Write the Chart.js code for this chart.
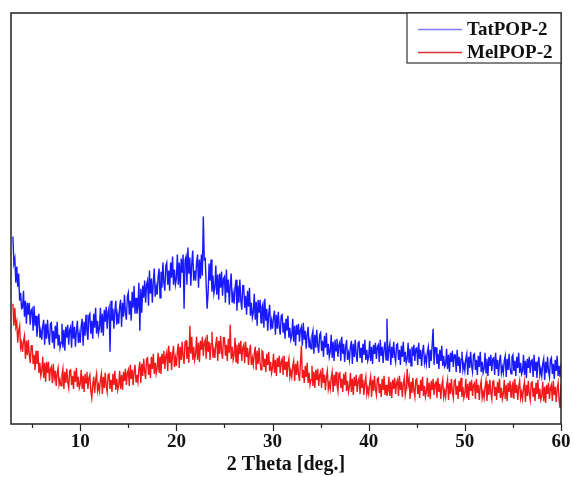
<!DOCTYPE html>
<html>
<head>
<meta charset="utf-8">
<script src="https://cdn.jsdelivr.net/npm/chart.js@4.4.0/dist/chart.umd.min.js"></script>
<style>
  html, body { margin: 0; padding: 0; background: #fff; }
  canvas { display: block; }
</style>
</head>
<body>
<canvas id="xrd" width="574" height="477"></canvas>
<script>
// PXRD scan, 2θ from 3 to 60 deg in 0.1 deg steps (intensity in a.u.)
var scanStart = 3;
var scanStep = 0.1;

// one row per degree
var tatPop2 = [
  187,160,165,141,157,137,150,123,131,115,
  116,133,107,123,100,121,109,121,99,113,
  115,93,118,98,108,87,102,110,86,93,
  84,98,104,79,100,85,104,88,79,100,
  101,81,93,75,98,85,102,78,89,76,
  81,100,76,94,73,97,86,99,79,94,
  97,76,103,85,97,77,93,103,81,90,
  81,98,105,78,102,88,109,92,84,108,
  110,90,103,85,110,96,116,90,103,90,
  96,116,91,110,88,114,102,117,95,112,
  116,72,123,103,115,95,113,123,99,109,
  100,117,124,97,121,107,129,111,104,127,
  131,109,123,103,132,116,138,110,126,110,
  117,141,93,135,111,138,126,143,121,139,
  143,118,153,130,145,121,142,155,127,137,
  129,147,155,126,152,136,161,141,133,158,
  161,139,153,133,161,146,167,139,154,139,
  145,169,139,161,136,165,151,169,115,163,
  167,139,176,150,166,138,160,173,143,153,
  143,161,169,136,164,145,169,148,207,164,
  165,139,115,131,160,143,164,132,148,130,
  136,158,129,149,124,150,136,152,128,145,
  147,121,154,131,144,119,138,150,121,130,
  120,136,144,113,138,121,144,123,114,138,
  138,116,128,109,133,117,136,108,121,106,
  111,130,104,122,98,124,111,124,101,117,
  120,96,125,103,115,93,110,119,94,103,
  95,107,113,89,109,95,112,97,89,108,
  109,91,101,85,105,93,108,86,96,84,
  88,105,82,98,78,99,89,100,82,94,
  97,78,101,84,93,75,89,97,76,83,
  75,88,93,70,89,76,94,78,71,89,
  91,73,83,67,88,76,91,69,80,67,
  72,89,66,82,63,84,73,85,67,79,
  82,63,87,70,80,62,76,84,64,71,
  64,77,83,60,80,67,84,69,62,81,
  82,66,76,61,80,69,84,64,74,63,
  67,83,63,77,60,79,70,81,65,77,
  79,62,84,68,77,61,75,82,64,105,
  63,75,80,59,77,66,82,68,62,79,
  80,64,74,59,78,67,82,62,72,61,
  65,81,61,75,58,77,68,79,63,75,
  76,59,81,65,74,58,72,79,61,67,
  60,72,77,56,74,63,79,95,59,76,
  76,60,70,55,74,63,78,58,68,57,
  59,75,55,69,52,71,62,73,57,69,
  69,52,74,58,67,51,65,72,54,60,
  53,65,70,49,67,56,72,58,52,69,
  70,54,64,49,68,57,72,52,62,51,
  55,71,51,65,48,67,58,69,53,65,
  66,49,71,55,64,48,62,69,51,57,
  51,63,68,47,65,54,70,56,50,67,
  69,53,63,48,67,56,71,51,61,50,
  53,69,49,63,46,65,56,67,51,63,
  64,47,69,53,62,46,60,67,49,55,
  48,60,65,44,62,51,67,53,47,64,
  66,50,60,45,64,53,68,48,58,47,
  60
];

var melPop2 = [
  120,98,116,97,102,81,93,98,76,81,
  72,83,88,65,83,69,84,69,61,78,
  78,60,69,54,73,60,73,51,61,48,
  53,67,46,61,42,62,51,62,43,55,
  57,41,60,46,53,38,51,56,39,44,
  38,49,55,35,52,41,55,42,36,53,
  54,39,48,35,53,42,56,37,47,36,
  40,54,35,48,32,50,41,52,35,46,
  49,33,26,39,47,31,44,50,33,39,
  33,44,50,30,47,36,51,38,32,49,
  50,35,44,32,50,39,53,34,45,34,
  39,53,35,49,34,52,43,55,39,51,
  54,38,59,45,54,39,52,59,42,49,
  42,55,62,41,60,48,65,52,45,65,
  66,49,60,46,67,55,70,50,61,50,
  56,71,51,67,50,70,60,73,55,68,
  72,53,78,61,72,54,70,78,57,66,
  58,72,80,56,77,64,82,67,60,82,
  83,65,77,61,98,70,87,64,77,64,
  70,87,64,81,62,83,74,87,68,81,
  84,65,89,72,82,64,80,92,66,74,
  66,80,87,63,83,70,88,72,65,86,
  86,68,79,63,85,71,99,65,77,64,
  69,86,62,79,60,81,70,83,63,76,
  79,61,82,67,76,59,72,79,59,66,
  59,70,77,54,73,60,76,62,54,73,
  72,57,65,52,70,59,72,53,62,51,
  56,70,51,64,48,66,57,68,51,62,
  65,49,68,54,62,47,59,65,47,53,
  47,58,63,43,60,49,63,50,43,60,
  78,46,54,41,58,47,61,41,51,39,
  44,58,38,52,36,54,44,55,38,49,
  52,36,56,41,49,34,47,53,35,41,
  35,46,52,32,49,38,52,39,33,50,
  51,36,45,32,50,39,52,33,43,32,
  37,51,32,45,29,47,38,49,32,43,
  46,30,50,36,44,29,41,47,30,36,
  30,41,47,27,44,33,48,35,29,45,
  46,31,40,27,45,34,48,29,39,28,
  33,47,28,42,26,44,35,46,30,41,
  44,28,48,34,42,27,40,46,29,35,
  55,39,45,25,42,31,46,33,27,44,
  45,30,39,26,44,33,47,28,38,27,
  32,46,27,41,25,43,34,45,29,40,
  42,26,46,32,40,25,38,44,27,33,
  27,38,44,24,41,30,45,32,26,43,
  44,29,38,25,43,32,46,27,37,26,
  31,45,26,40,24,42,33,44,28,39,
  41,25,45,31,39,24,37,43,26,32,
  26,37,43,23,40,29,44,31,25,42,
  43,28,37,24,42,31,45,26,36,25,
  30,44,25,39,23,41,32,43,27,38,
  41,25,45,31,39,24,37,43,26,32,
  25,36,42,22,39,28,43,30,24,41,
  42,27,36,23,41,30,44,25,35,24,
  28,42,23,37,21,39,30,41,25,36,
  39,23,43,29,37,22,35,41,24,16,
  40
];

var seriesNames = ['TatPOP-2', 'MelPOP-2'];
var seriesColors = ['rgba(0,0,255,0.9)', 'rgba(240,0,0,0.9)'];
var legendColors = ['#8080ff', '#d83030'];
var majorTicks = [10, 20, 30, 40, 50, 60];
var minorTicks = [5, 15, 25, 35, 45, 55];

function toPoints(arr) {
  return arr.map(function (v, i) {
    return { x: scanStart + i * scanStep, y: v };
  });
}

var serif = '"Liberation Serif", "Times New Roman", serif';

// box, outward ticks and the inset legend
var framePlugin = {
  id: 'frame',
  afterDatasetsDraw: function (chart) {
    var a = chart.chartArea;
    var ctx = chart.ctx;
    var xs = chart.scales.x;
    ctx.save();
    ctx.strokeStyle = '#222';
    ctx.lineWidth = 1.5;
    ctx.strokeRect(a.left, a.top, a.right - a.left, a.bottom - a.top);

    ctx.lineWidth = 1.2;
    ctx.beginPath();
    majorTicks.forEach(function (v) {
      var px = Math.round(xs.getPixelForValue(v)) + 0.5;
      ctx.moveTo(px, a.bottom);
      ctx.lineTo(px, a.bottom + 7);
    });
    minorTicks.forEach(function (v) {
      var px = Math.round(xs.getPixelForValue(v)) + 0.5;
      ctx.moveTo(px, a.bottom);
      ctx.lineTo(px, a.bottom + 4);
    });
    ctx.stroke();

    // legend
    var bw = 154, bh = 50;
    var bx = a.right - bw, by = a.top;
    ctx.fillStyle = '#fff';
    ctx.fillRect(bx, by, bw, bh);
    ctx.lineWidth = 1.2;
    ctx.strokeStyle = '#333';
    ctx.strokeRect(bx, by, bw, bh);
    ctx.font = 'bold 19px ' + serif;
    ctx.textBaseline = 'middle';
    ctx.fillStyle = '#111';
    seriesNames.forEach(function (name, i) {
      var y = by + 16 + i * 23;
      ctx.strokeStyle = legendColors[i];
      ctx.lineWidth = 1.5;
      ctx.beginPath();
      ctx.moveTo(bx + 11, y + 0.5);
      ctx.lineTo(bx + 55, y + 0.5);
      ctx.stroke();
      ctx.fillText(name, bx + 60, y + 1);
    });
    ctx.restore();
  }
};

var ctx = document.getElementById('xrd').getContext('2d');
var xrdChart = new Chart(ctx, {
  type: 'line',
  data: {
    datasets: [{
      label: seriesNames[0],
      data: toPoints(tatPop2),
      borderColor: seriesColors[0],
      borderWidth: 1.4,
      pointRadius: 0,
      tension: 0
    }, {
      label: seriesNames[1],
      data: toPoints(melPop2),
      borderColor: seriesColors[1],
      borderWidth: 1.4,
      pointRadius: 0,
      tension: 0
    }]
  },
  options: {
    responsive: false,
    animation: false,
    layout: { padding: { left: 11, right: 13, top: 13, bottom: 2 } },
    plugins: {
      legend: { display: false },
      tooltip: { enabled: false }
    },
    scales: {
      x: {
        type: 'linear',
        min: 2.8,
        max: 60,
        afterBuildTicks: function (scale) {
          scale.ticks = majorTicks.map(function (v) { return { value: v }; });
        },
        afterFit: function (scale) {
          // plot box runs to the layout padding; end labels may overhang
          scale.height = 51;
          scale.paddingLeft = 0;
          scale.paddingRight = 0;
        },
        grid: { display: false, drawTicks: false },
        border: { display: false },
        ticks: {
          color: '#111',
          padding: 9,
          maxRotation: 0,
          font: { family: serif, size: 19, weight: 'bold', lineHeight: 1 }
        },
        title: {
          display: true,
          text: '2 Theta [deg.]',
          color: '#111',
          padding: { top: 3, bottom: 0 },
          font: { family: serif, size: 20, weight: 'bold', lineHeight: 1 }
        }
      },
      y: {
        display: false,
        min: 0,
        max: 410
      }
    }
  },
  plugins: [framePlugin]
});
</script>
</body>
</html>
